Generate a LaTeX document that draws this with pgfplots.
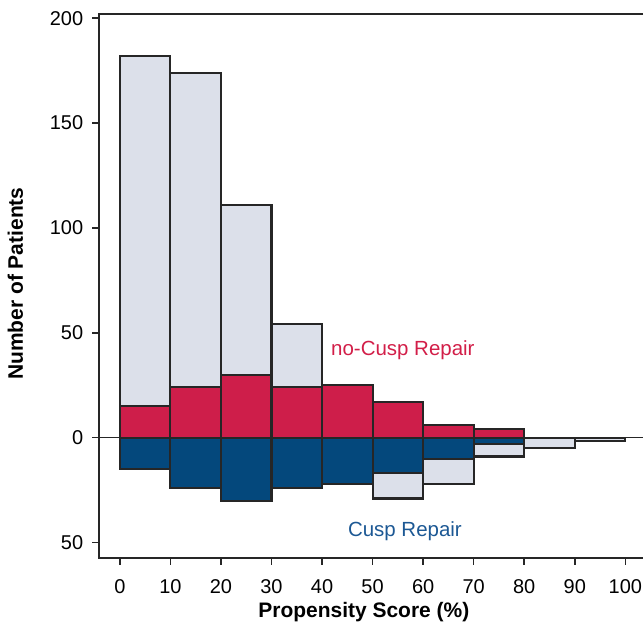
\documentclass[border=0pt]{standalone}
\usepackage{pgfplots}
\pgfplotsset{compat=1.18}
\usepackage{fontspec}
\setmainfont{Liberation Sans}
\definecolor{cGray}{RGB}{220,224,234}
\definecolor{cRed}{RGB}{206,30,74}
\definecolor{cBlue}{RGB}{4,72,124}
\definecolor{cBlueText}{RGB}{28,88,148}
\definecolor{cRedText}{RGB}{210,30,72}
\begin{document}
\begin{tikzpicture}
\begin{axis}[
  scale only axis,
  width=545pt, height=545pt,
  xmin=-4.15, xmax=103.5,
  ymin=-57.6, ymax=201.9,
  axis line style={draw=none},
  tick align=outside,
  tick pos=left,
  major tick length=6.5pt,
  tick style={line width=1.6pt, black!85},
  xtick={0,10,...,100},
  ytick={-50,0,50,100,150,200},
  yticklabels={50,0,50,100,150,200},
  /pgf/number format/assume math mode=true,
  ticklabel style={font=\fontsize{20}{24}\selectfont, inner sep=0pt},
  xticklabel style={yshift=-14pt},
  yticklabel style={xshift=-9pt},
  xlabel={Propensity Score (\%)},
  ylabel={Number of Patients},
  xlabel style={font=\fontsize{21}{24}\selectfont\bfseries, at={(axis description cs:0.487,0)}, anchor=base, yshift=-58.7pt},
  ylabel style={font=\fontsize{21}{24}\selectfont\bfseries, at={([xshift=-76pt]axis description cs:0,0.505)}, anchor=base, rotate=0},
  clip=false,
]
% upper: total no-cusp repair (gray) and matched (red)
\addplot[ybar interval, fill=cGray, draw=black!85, line width=2.1pt] coordinates {
  (0,182) (10,174) (20,111) (30,54) (40,25) (50,17) (60,6) (70,4) (80,0)};
\addplot[ybar interval, fill=cRed, draw=black!85, line width=2.1pt] coordinates {
  (0,15) (10,24) (20,30) (30,24) (40,25) (50,17) (60,6) (70,4) (80,0)};
% lower: total cusp repair (gray) and matched (blue)
\addplot[ybar interval, fill=cGray, draw=black!85, line width=2.1pt] coordinates {
  (0,-15) (10,-24) (20,-30) (30,-24) (40,-22) (50,-29) (60,-22) (70,-9) (80,-5) (90,-1.5) (100,0)};
\addplot[ybar interval, fill=cBlue, draw=black!85, line width=2.1pt] coordinates {
  (0,-15) (10,-24) (20,-30) (30,-24) (40,-22) (50,-17) (60,-10) (70,-3) (80,0)};
% zero line
\addplot[black!85, line width=1.6pt] coordinates {(-4.15,0) (103.5,0)};
% frame (left, top, bottom)
\draw[black!85, line width=2pt] (rel axis cs:1,1) -- (rel axis cs:0,1) -- (rel axis cs:0,0) -- (rel axis cs:1,0);
\node[text=cRedText, anchor=base, font=\fontsize{20.5}{24}\selectfont] at (axis cs:56.0,39.2) {no-Cusp Repair};
\node[text=cBlueText, anchor=base, font=\fontsize{20.5}{24}\selectfont] at (axis cs:56.4,-47.1) {Cusp Repair};
\end{axis}
\path ([shift={(-99pt,-72.7pt)}]current axis.south west) rectangle ([shift={(0pt,14.3pt)}]current axis.north east);
\end{tikzpicture}
\end{document}
